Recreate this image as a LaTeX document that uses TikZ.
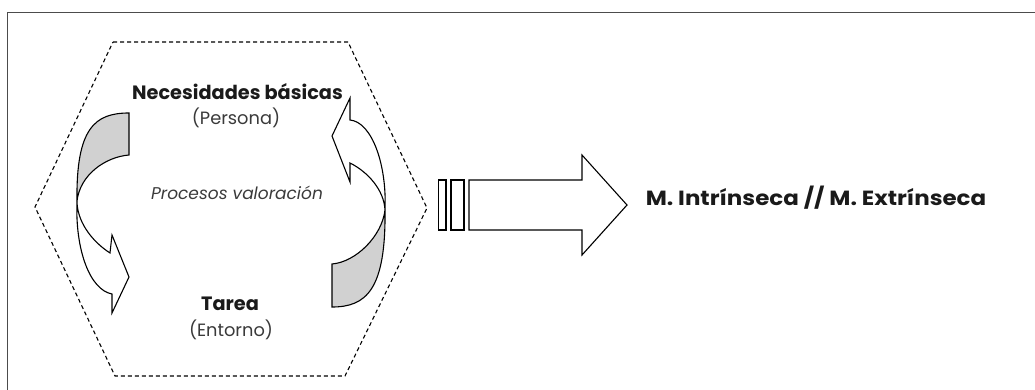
\documentclass[tikz,border=0pt]{standalone}
\usepackage{fontspec}
\setmainfont{Poppins}
\definecolor{txtdark}{HTML}{1A1A1A}
\definecolor{txtgray}{HTML}{3A3A3A}
\begin{document}
\begin{tikzpicture}[x=1pt,y=1pt,
  arrowline/.style={draw=black, line width=1.1pt, line join=miter},
  boldlab/.style={anchor=base, inner sep=0pt, text=txtdark, font=\fontsize{19.3}{22}\selectfont\bfseries},
  motlab/.style={anchor=base, inner sep=0pt, text=txtdark, xscale=1.12, font=\fontsize{20.5}{23}\selectfont\bfseries},
  sublab/.style={anchor=base, inner sep=0pt, text=txtgray, font=\fontsize{17.8}{20}\selectfont},
  itlab/.style={anchor=base, inner sep=0pt, text=txtgray, font=\fontsize{17}{20}\selectfont\itshape},
  hexline/.style={draw=black, line width=1.1pt, dash pattern=on 4pt off 3pt}
]
\useasboundingbox (0,0) rectangle (1035,-390);
% frame
\draw[line width=1.7pt, black!70] (7.5,-390) -- (7.5,-12.5) -- (1035,-12.5);
% hexagon
\draw[hexline] (113,-42) -- (348,-42) -- (427,-208) -- (345,-376) -- (115,-376) -- (35,-207) -- cycle;
% left curved arrow
\filldraw[arrowline, fill=black!18] (129,-113) .. controls (95,-113) and (76,-128) .. (77,-201)
  .. controls (80,-175) and (105,-157) .. (129,-155) -- cycle;
\filldraw[arrowline, fill=white] (77,-201) .. controls (75,-250) and (90,-290) .. (112,-294)
  -- (112,-313) -- (129,-277) -- (112,-235) -- (110,-253)
  .. controls (90,-240) and (77,-220) .. (77,-201) -- cycle;
% right curved arrow
\filldraw[arrowline, fill=black!18] (332,-307) .. controls (366,-307) and (386,-290) .. (385,-210)
  .. controls (382,-236) and (356,-262) .. (332,-264) -- cycle;
\filldraw[arrowline, fill=white] (385,-210) .. controls (387,-165) and (372,-122) .. (350,-120)
  -- (350,-98) -- (332,-136) -- (350,-182) -- (350,-163)
  .. controls (368,-172) and (384,-190) .. (385,-210) -- cycle;
% striped block arrow
\draw[arrowline] (438.5,-180) rectangle (446,-230);
\draw[arrowline] (451,-180) rectangle (464,-230);
\draw[arrowline] (469,-180) -- (582,-180) -- (582,-155) -- (627,-205) -- (582,-255) -- (582,-230) -- (469,-230) -- cycle;
% labels
\node[boldlab] (nec) at (237.5,-100) {Necesidades básicas};
\node[sublab] (per) at (236,-125) {(Persona)};
\node[itlab] (proc) at (237,-199) {Procesos valoración};
\node[boldlab] (tar) at (230,-310) {Tarea};
\node[sublab] (ent) at (231,-336.5) {(Entorno)};
\node[motlab] (mot) at (816,-205) {M. Intrínseca // M. Extrínseca};
\end{tikzpicture}
\end{document}
